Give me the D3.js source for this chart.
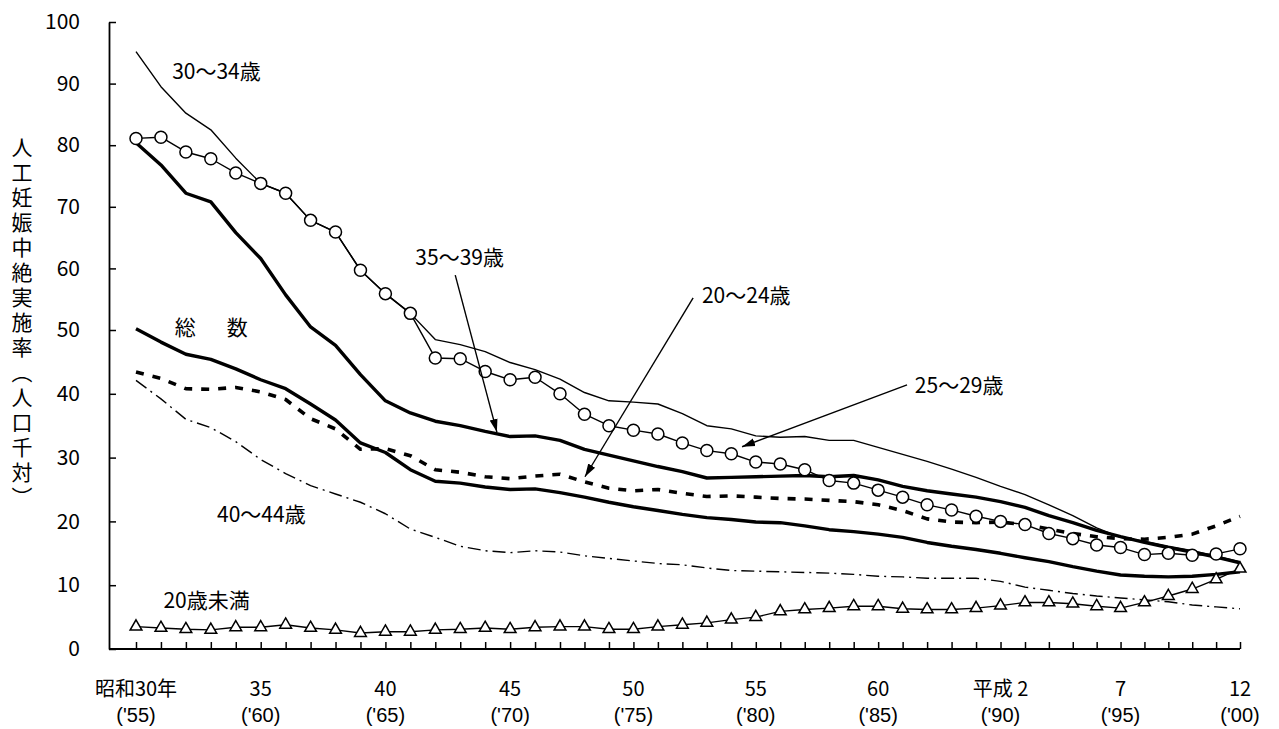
<!DOCTYPE html>
<html>
<head>
<meta charset="utf-8">
<script src="https://cdn.jsdelivr.net/npm/d3@7"></script>
<style>
  body { margin: 0; background: #fff; }
  text { font-family: "Noto Sans CJK JP", "Noto Sans", sans-serif; fill: #000; }
</style>
</head>
<body>
<svg id="chart" width="1279" height="729"></svg>
<script>
// years 1955 (昭和30) .. 2000 (平成12)
var years = d3.range(1955, 2001);

var total    = [50.2,48.1,46.2,45.4,43.9,42.2,40.8,38.4,35.9,32.3,
                30.8,28.1,26.3,26.0,25.4,25.0,25.1,24.5,23.8,23.0,
                22.3,21.7,21.1,20.6,20.3,19.9,19.8,19.3,18.7,18.4,
                18.0,17.5,16.7,16.1,15.6,15.0,14.3,13.7,12.9,12.2,
                11.6,11.4,11.3,11.4,11.7,12.1];
var under20  = [3.5,3.3,3.1,3.0,3.4,3.4,3.8,3.3,3.0,2.5,
                2.7,2.7,3.0,3.1,3.3,3.1,3.4,3.5,3.5,3.1,
                3.1,3.5,3.8,4.1,4.6,5.0,5.9,6.2,6.4,6.7,
                6.7,6.3,6.2,6.2,6.4,6.8,7.3,7.3,7.1,6.7,
                6.4,7.3,8.3,9.4,10.9,12.6];
var age20_24 = [43.4,42.4,40.8,40.7,41.0,40.3,39.1,36.1,34.5,31.3,
                31.4,30.3,28.1,27.7,27.0,26.7,27.1,27.4,26.2,25.2,
                24.8,25.0,24.4,23.9,24.0,23.8,23.6,23.5,23.3,23.1,
                22.6,21.7,20.4,19.9,19.8,19.9,19.5,18.8,18.1,17.6,
                17.3,17.2,17.5,18.0,19.3,20.8];
var age25_29 = [81.1,81.3,78.9,77.8,75.5,73.8,72.2,67.8,65.9,59.7,
                55.9,52.7,45.6,45.5,43.5,42.2,42.6,40.0,36.8,35.0,
                34.3,33.7,32.3,31.1,30.6,29.3,29.0,28.1,26.4,26.0,
                24.9,23.8,22.6,21.8,20.8,20.0,19.5,18.1,17.3,16.3,
                15.9,14.8,15.0,14.7,14.9,15.7];
var age30_34 = [95.2,89.5,85.2,82.5,77.9,73.8,72.2,67.8,65.9,59.7,
                55.9,52.7,48.5,47.7,46.6,44.9,43.8,42.3,40.2,38.9,
                38.7,38.4,36.9,35.0,34.5,33.4,33.2,33.3,32.7,32.7,
                31.6,30.5,29.4,28.2,26.9,25.5,24.2,22.6,20.9,19.0,
                17.5,16.9,16.1,15.4,14.6,13.7];
var age35_39 = [80.4,76.8,72.2,70.8,65.8,61.6,55.7,50.5,47.6,43.0,
                38.9,37.0,35.7,35.0,34.1,33.3,33.4,32.7,31.3,30.4,
                29.5,28.6,27.8,26.8,26.9,27.0,27.1,27.2,27.0,27.2,
                26.5,25.5,24.8,24.3,23.8,23.1,22.2,20.9,19.8,18.6,
                17.6,16.7,15.9,15.2,14.4,13.5];
var age40_44 = [42.1,39.2,36.0,34.7,32.5,29.7,27.5,25.6,24.3,23.0,
                21.2,18.8,17.5,16.1,15.4,15.1,15.4,15.2,14.6,14.2,
                13.8,13.4,13.2,12.7,12.3,12.2,12.1,12.0,11.9,11.7,
                11.4,11.3,11.1,11.1,11.1,10.6,9.7,9.2,8.7,8.3,
                8.0,7.7,7.4,6.9,6.6,6.3];

var yTicks = [0,10,20,30,40,50,60,70,80,90,100];
var xLabelYears  = [1955,1960,1965,1970,1975,1980,1985,1990,1995,2000];
var xLabelTop    = ["昭和30年","35","40","45","50","55","60","平成 2","7","12"];
var xLabelBottom = ["('55)","('60)","('65)","('70)","('75)","('80)","('85)","('90)","('95)","('00)"];

var yTitle = "人工妊娠中絶実施率（人口千対）";

// series labels: text, year, value (baseline-left)
var notes = [
  ["30～34歳", 1956.45, 90.7],
  ["総　数",   1956.55, 49.2],
  ["35～39歳", 1966.2, 60.6],
  ["20～24歳", 1977.8, 54.4],
  ["25～29歳", 1986.5, 40.1],
  ["40～44歳", 1958.25, 19.9],
  ["20歳未満", 1956.1, 6.4]
];
// arrows: from (year,value) to (year,value)
var arrows = [
  [1967.8, 58.9, 1969.47, 34.0],
  [1977.44, 55.2, 1973.02, 27.0],
  [1986.18, 41.4, 1979.44, 31.7]
];

var svg = d3.select("#chart");
var axisLeftX = 109;

// the scanned chart is slightly uneven, so the scales are piecewise
var x = d3.scaleLinear().domain([1955,1972,1991,2000]).range([136,560,1025,1240]);
var y = d3.scaleLinear().domain([0,50,100]).range([649,330,22]);

svg.append("defs").append("marker")
    .attr("id","arrow")
    .attr("markerUnits","userSpaceOnUse")
    .attr("viewBox","0 -5 13 10")
    .attr("refX",13).attr("refY",0)
    .attr("markerWidth",13).attr("markerHeight",10)
    .attr("orient","auto")
  .append("path")
    .attr("d","M0,-4L13,0L0,4Z")
    .style("fill","#000");

// y axis
var gy = svg.append("g")
    .attr("transform","translate("+axisLeftX+",0)")
    .call(d3.axisLeft(y).tickValues(yTicks).tickSizeInner(-7).tickSizeOuter(0).tickPadding(29));
gy.select(".domain").style("stroke","#000").style("stroke-width",1.8);
gy.selectAll(".tick line").style("stroke","#000").style("stroke-width",1.5);
gy.selectAll(".tick text").style("font-size","21px").style("font-family","'Liberation Sans Narrow','Noto Sans CJK JP',sans-serif");

// x axis
var gx = svg.append("g")
    .attr("transform","translate(0,"+y(0)+")")
    .call(d3.axisBottom(x).tickValues(years).tickSizeInner(-7).tickSizeOuter(0).tickFormat(""));
gx.select(".domain").remove();
gx.selectAll(".tick line").style("stroke","#000").style("stroke-width",1.5);
svg.append("line")
    .attr("x1",axisLeftX).attr("x2",x(2000))
    .attr("y1",y(0)).attr("y2",y(0))
    .style("stroke","#000").style("stroke-width",1.8);

// two-line year labels, each line its own text
var xlab = svg.append("g");
xlab.selectAll("text.top")
    .data(xLabelYears)
    .enter().append("text")
    .attr("class","top")
    .attr("x",function(d){return x(d);})
    .attr("y",y(0)+47)
    .attr("text-anchor","middle")
    .style("font-size","20px")
    .text(function(d,i){return xLabelTop[i];});
xlab.selectAll("text.bot")
    .data(xLabelYears)
    .enter().append("text")
    .attr("class","bot")
    .attr("x",function(d){return x(d);})
    .attr("y",y(0)+73)
    .attr("text-anchor","middle")
    .style("font-size","20px")
    .style("font-family","'Liberation Sans',sans-serif")
    .text(function(d,i){return xLabelBottom[i];});

// vertical title
svg.append("text")
    .attr("x",22).attr("y",137)
    .style("writing-mode","vertical-rl")
    .style("font-size","21px")
    .style("letter-spacing","4px")
    .text(yTitle);

// lines
var line = d3.line()
    .x(function(d,i){return x(years[i]);})
    .y(function(d){return y(d);});

function drawLine(values, width, dash){
    svg.append("path")
        .datum(values)
        .attr("d",line)
        .style("fill","none")
        .style("stroke","#000")
        .style("stroke-width",width)
        .style("stroke-linejoin","round")
        .style("stroke-dasharray",dash || null);
}

drawLine(age40_44, 1.4, "13,5,2,5");
drawLine(under20, 1.4);
drawLine(total, 3.4);
drawLine(age20_24, 3.6, "8,9");
drawLine(age35_39, 3.4);
drawLine(age30_34, 1.4);
drawLine(age25_29, 1.4);

svg.append("g").selectAll("circle")
    .data(age25_29)
    .enter().append("circle")
    .attr("cx",function(d,i){return x(years[i]);})
    .attr("cy",function(d){return y(d);})
    .attr("r",6)
    .style("fill","#fff")
    .style("stroke","#000")
    .style("stroke-width",1.5);

var tri = d3.symbol().type(d3.symbolTriangle).size(60);
svg.append("g").selectAll("path")
    .data(under20)
    .enter().append("path")
    .attr("d",tri)
    .attr("transform",function(d,i){return "translate("+x(years[i])+","+y(d)+")";})
    .style("fill","#fff")
    .style("stroke","#000")
    .style("stroke-width",1.5);

// labels and arrows
svg.append("g").selectAll("text")
    .data(notes)
    .enter().append("text")
    .attr("x",function(d){return x(d[1]);})
    .attr("y",function(d){return y(d[2]);})
    .style("font-size","21px")
    .style("letter-spacing",function(d){return d[0]=="総　数" ? "5px" : null;})
    .text(function(d){return d[0];});

svg.append("g").selectAll("line")
    .data(arrows)
    .enter().append("line")
    .attr("x1",function(d){return x(d[0]);})
    .attr("y1",function(d){return y(d[1]);})
    .attr("x2",function(d){return x(d[2]);})
    .attr("y2",function(d){return y(d[3]);})
    .style("stroke","#000")
    .style("stroke-width",1.4)
    .attr("marker-end","url(#arrow)");
</script>
</body>
</html>
